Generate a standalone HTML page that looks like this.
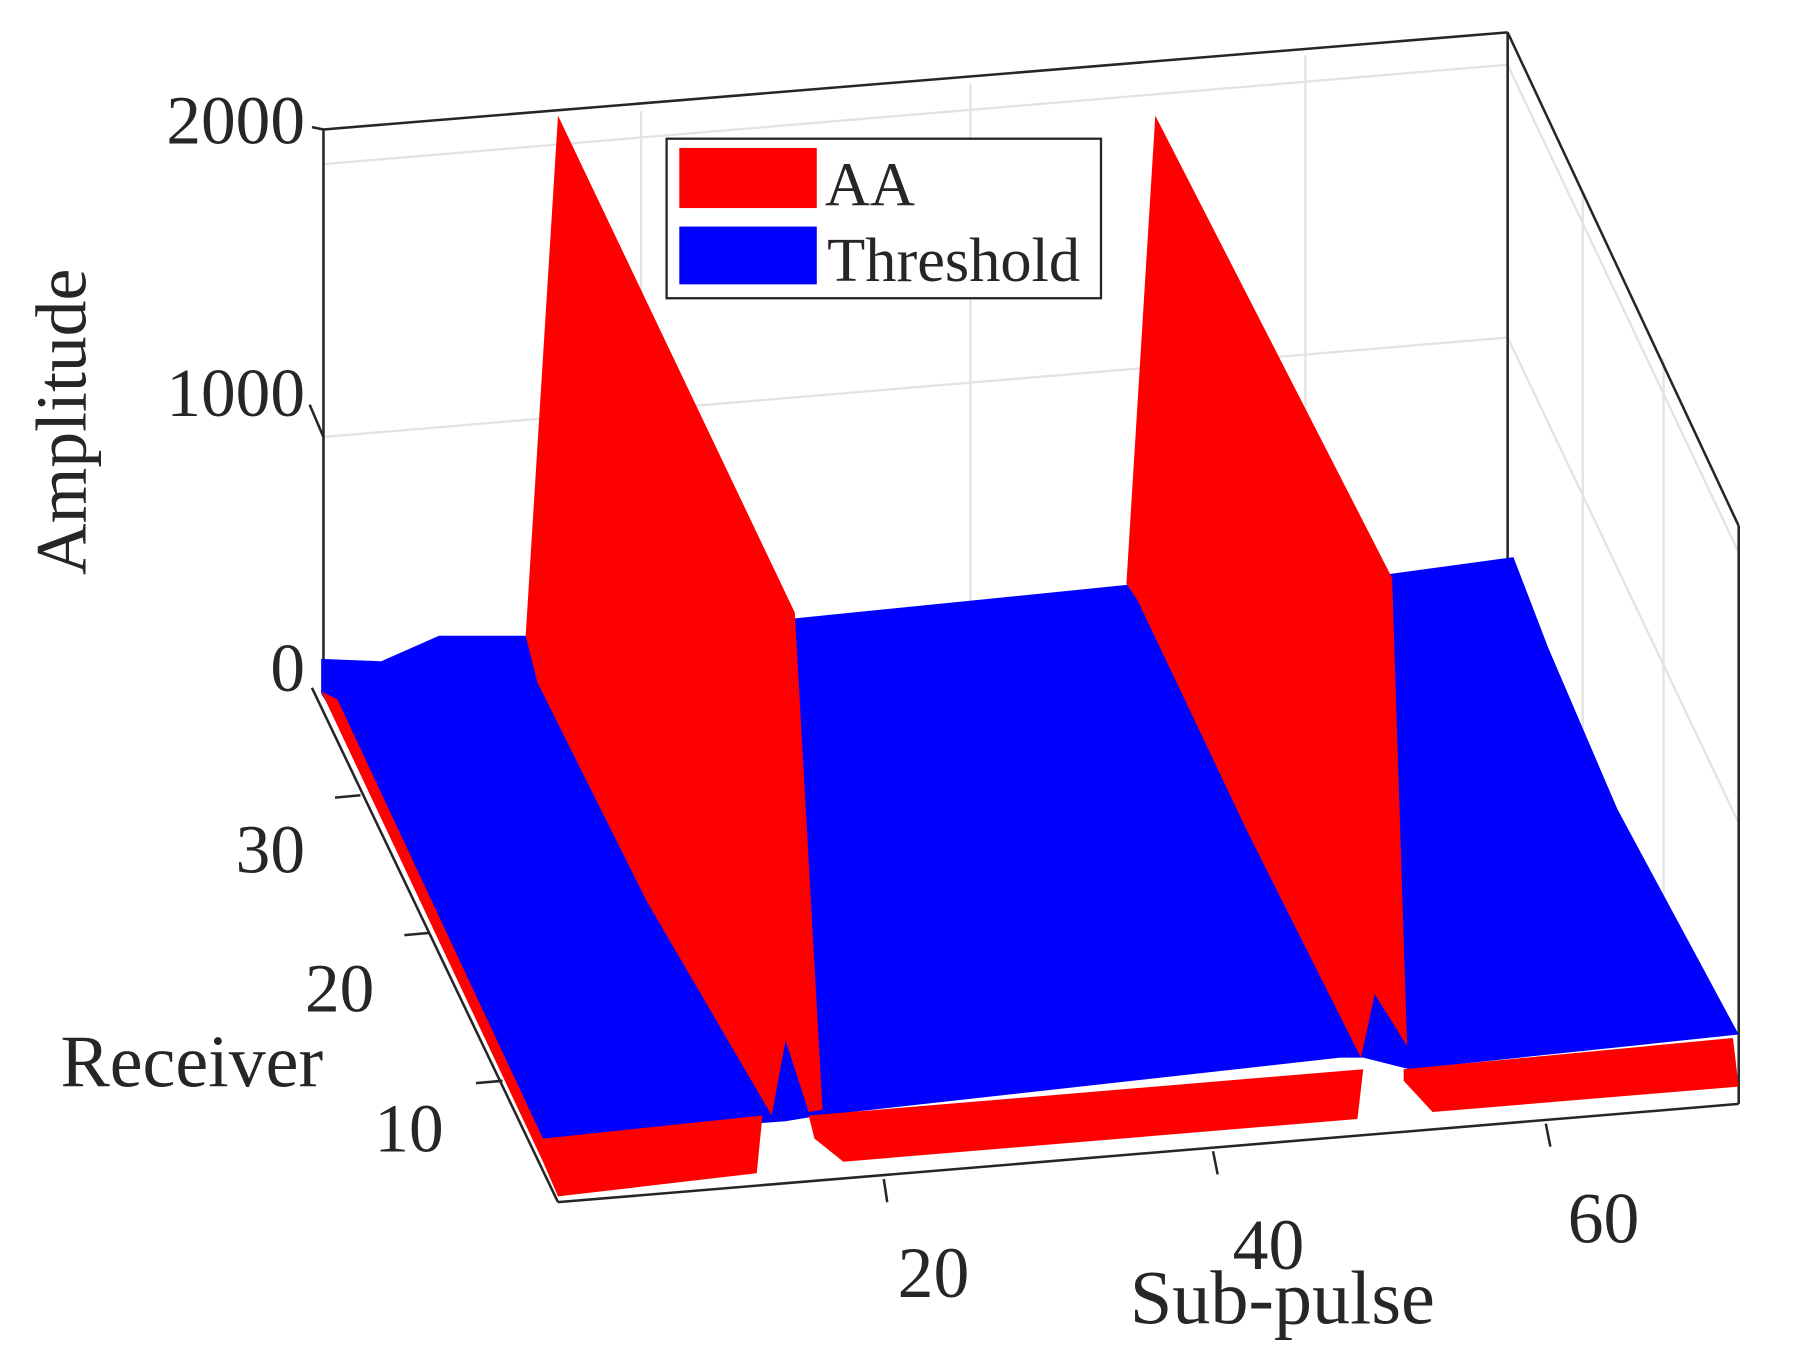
<!DOCTYPE html>
<html><head><meta charset="utf-8"><style>
html,body{margin:0;padding:0;background:#fff;}
svg{display:block}
text{font-family:"Liberation Serif",serif;fill:#262626}
</style></head><body>
<svg width="1793" height="1364" viewBox="0 0 1552 1180" preserveAspectRatio="none">
<rect width="1552" height="1180" fill="#fff"/>
<g stroke="#e3e3e3" stroke-width="2" fill="none">
<line x1="555" y1="96" x2="555" y2="560"/>
<line x1="840" y1="72" x2="840" y2="540"/>
<line x1="1130" y1="48" x2="1130" y2="510"/>
<line x1="280" y1="378" x2="1305" y2="292"/>
<line x1="280" y1="142" x2="1305" y2="56"/>
<line x1="1305" y1="292" x2="1505" y2="712"/>
<line x1="1305" y1="56" x2="1505" y2="478"/>
<line x1="1370" y1="165" x2="1370" y2="930"/>
<line x1="1440" y1="310" x2="1440" y2="920"/>
</g>
<g stroke="#262626" stroke-width="2.2" fill="none">
<line x1="280" y1="112" x2="1305" y2="28"/>
<line x1="1305" y1="28" x2="1305" y2="490"/>
<line x1="1305" y1="28" x2="1505" y2="455"/>
<line x1="1505" y1="455" x2="1505" y2="955"/>
<line x1="280" y1="112" x2="280" y2="598"/>
<line x1="270" y1="595" x2="483" y2="1040"/>
<line x1="483" y1="1040" x2="1505" y2="955"/>
<line x1="270" y1="110" x2="280" y2="112"/>
<line x1="268" y1="350" x2="280" y2="378"/>
<line x1="765" y1="1020" x2="768" y2="1040"/>
<line x1="1050" y1="996" x2="1054" y2="1016"/>
<line x1="1338" y1="972" x2="1342" y2="992"/>
<line x1="435" y1="935" x2="412" y2="937"/>
<line x1="372" y1="807" x2="350" y2="809"/>
<line x1="312" y1="688" x2="290" y2="690"/>
</g>
<polygon fill="#0000ff" points="278,570 330,572 380,550 455,550 688,535 985,505 1200,497 1310,482 1340,560 1400,700 1470,830 1505,895 1220,925 1180,915 1160,915 710,965 680,970 470,985 455,960 290,620 278,600"/>
<polygon fill="#ff0000" points="455,550 483,100 688,530 712,960 700,962 680,900 668,965 560,780 465,590"/>
<polygon fill="#ff0000" points="975,505 1000,100 1205,500 1218,905 1190,860 1178,915 1080,720 985,520"/>
<polygon fill="#ff0000" points="470,985 660,965 655,1015 483,1035 475,1010"/>
<polygon fill="#ff0000" points="700,965 1180,925 1175,968 730,1005 705,985"/>
<polygon fill="#ff0000" points="1215,925 1500,898 1505,940 1240,962 1215,935"/>
<polygon fill="#ff0000" points="278,598 292,605 470,985 483,1035 470,1005"/>
<rect x="577" y="120" width="376" height="138" fill="#fff" stroke="#262626" stroke-width="2"/>
<rect x="588" y="128" width="119" height="52" fill="#ff0000"/>
<rect x="588" y="196" width="119" height="50" fill="#0000ff"/>
<text x="714" y="178" font-size="54">AA</text>
<text x="716" y="243" font-size="54">Threshold</text>
<g font-size="60" text-anchor="end">
<text x="264" y="124">2000</text>
<text x="264" y="360">1000</text>
<text x="264" y="598">0</text>
<text x="264" y="755">30</text>
<text x="324" y="875">20</text>
<text x="384" y="996">10</text>
</g>
<g font-size="62" text-anchor="middle">
<text x="808" y="1122">20</text>
<text x="1098" y="1098">40</text>
<text x="1388" y="1075">60</text>
<text x="1110" y="1145" font-size="66">Sub-pulse</text>
<text x="166" y="940" font-size="64">Receiver</text>
</g>
<text font-size="62" text-anchor="middle" transform="translate(74,365) rotate(-90)">Amplitude</text>
</svg>
</body></html>
